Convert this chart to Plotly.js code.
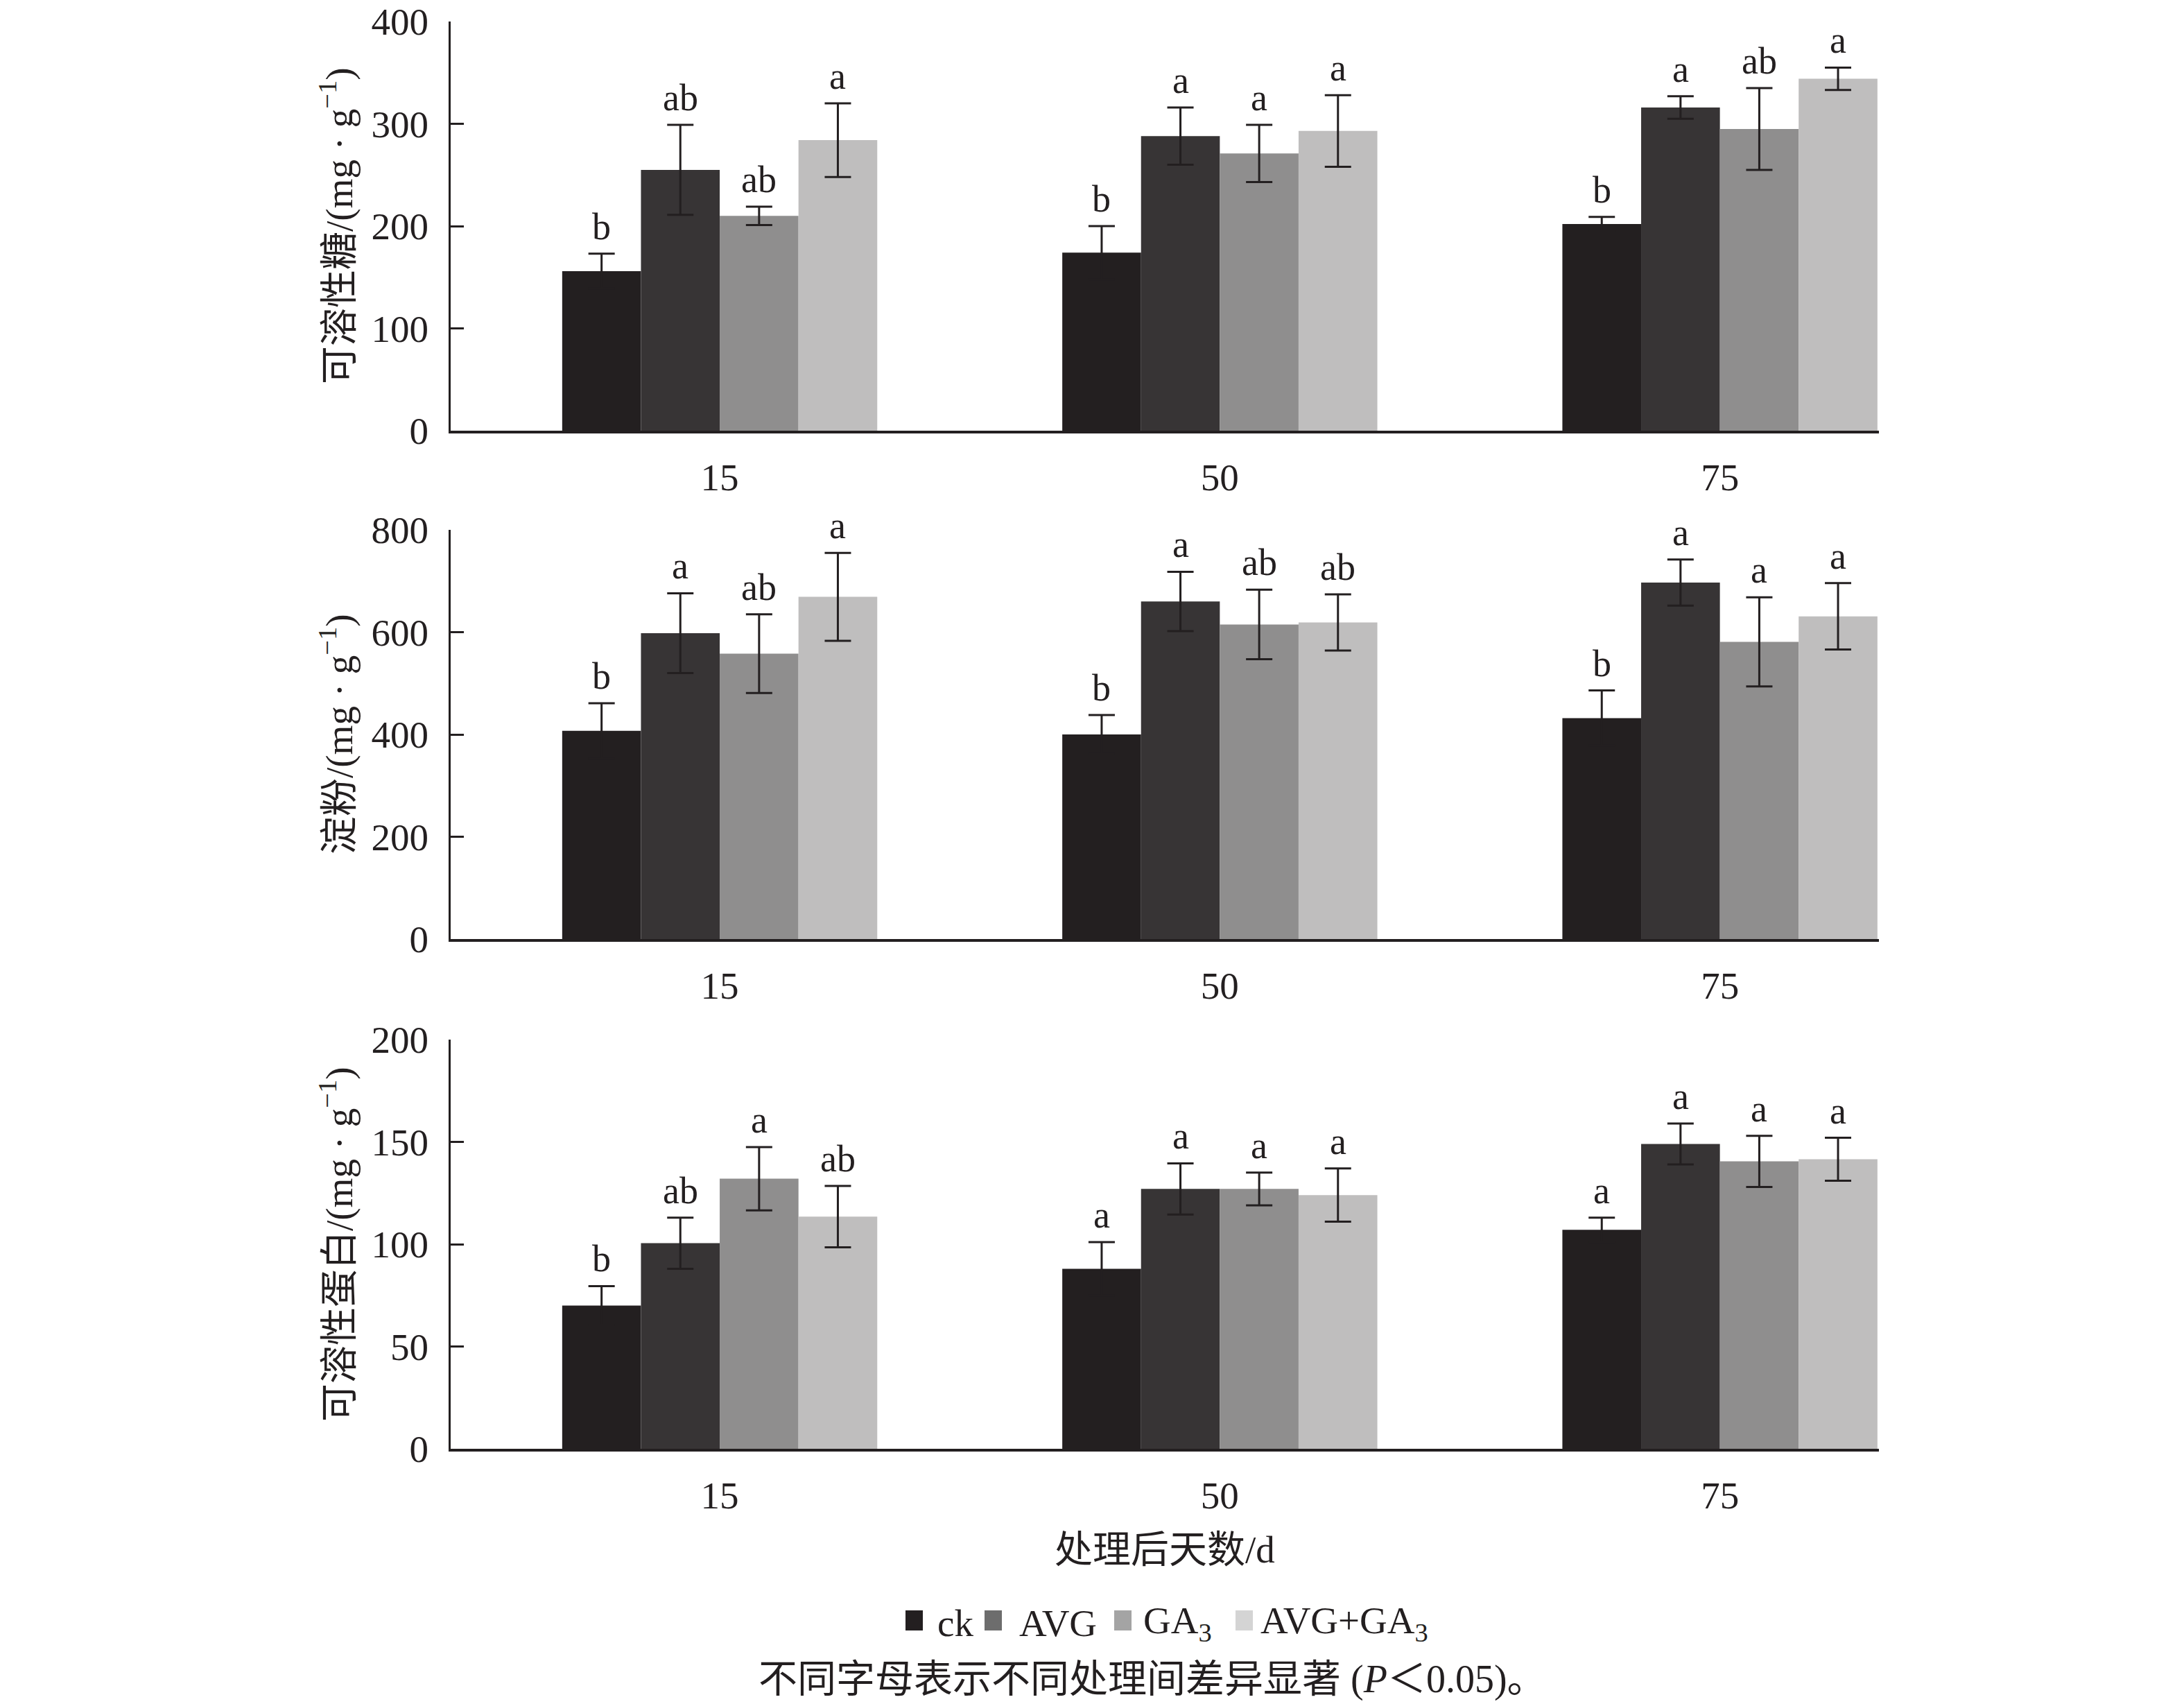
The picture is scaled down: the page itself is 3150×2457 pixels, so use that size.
<!DOCTYPE html>
<html>
<head>
<meta charset="utf-8">
<script src="https://cdn.plot.ly/plotly-3.0.1.min.js"></script>
<style>
  html, body { margin: 0; padding: 0; background: #fff; }
</style>
</head>
<body>
<div id="chart" style="width:3150px;height:2457px"></div>
<script>
const days = ["15", "50", "75"];
const treatments = ["ck", "AVG", "GA<sub>3</sub>", "AVG+GA<sub>3</sub>"];
const barColors = ["#231f20", "#373435", "#8f8e8e", "#bfbebe"];
const legendColors = ["#231f20", "#6d6d6d", "#a4a4a4", "#d4d4d4"];

// rows: ck, AVG, GA3, AVG+GA3 ; columns: 15, 50, 75 d
const sugarMean = [[156, 174, 202], [255, 288, 316], [210, 271, 295], [284, 293, 344]];
const sugarErr = [[17, 26, 7], [44, 28, 11], [9, 28, 40], [36, 35, 11]];
const sugarSig = [["b", "b", "b"], ["ab", "a", "a"], ["ab", "a", "ab"], ["a", "a", "a"]];

const starchMean = [[407, 400, 432], [598, 660, 697], [558, 615, 581], [669, 619, 631]];
const starchErr = [[54, 38, 54], [78, 58, 45], [77, 68, 87], [86, 55, 65]];
const starchSig = [["b", "b", "b"], ["a", "a", "a"], ["ab", "ab", "a"], ["a", "ab", "a"]];

const proteinMean = [[70, 88, 107], [100.5, 127, 149], [132, 127, 140.5], [113.5, 124, 141.5]];
const proteinErr = [[9.5, 13, 6], [12.5, 12.5, 10], [15.5, 8, 12.5], [15, 13, 10.5]];
const proteinSig = [["b", "a", "a"], ["ab", "a", "a"], ["a", "a", "a"], ["ab", "a", "a"]];

const W = 3150, H = 2457;
const px = (x) => x / W;
const py = (y) => 1 - y / H;

const FONT = "'Liberation Serif', 'Noto Sans CJK SC', serif";
const INK = "#231f20";
const BARGAP = 0.37;
const barW = (1 - BARGAP) / treatments.length;

const panels = [
  { mean: sugarMean, err: sugarErr, sig: sugarSig, title: "可溶性糖/(mg · g<sup>−1</sup>)",
    range: [0, 400], dtick: 100, top: 31, bottom: 621 },
  { mean: starchMean, err: starchErr, sig: starchSig, title: "淀粉/(mg · g<sup>−1</sup>)",
    range: [0, 800], dtick: 200, top: 764, bottom: 1354 },
  { mean: proteinMean, err: proteinErr, sig: proteinSig, title: "可溶性蛋白/(mg · g<sup>−1</sup>)",
    range: [0, 200], dtick: 50, top: 1499, bottom: 2089 },
];

const traces = [];
const annotations = [];
const shapes = [];
const layout = {
  width: W,
  height: H,
  margin: { l: 0, r: 0, t: 0, b: 0 },
  paper_bgcolor: "#fff",
  plot_bgcolor: "#fff",
  font: { family: FONT, size: 55, color: INK },
  barmode: "group",
  bargap: BARGAP,
  bargroupgap: 0,
  showlegend: false,
};

const xIdx = days.map((_, i) => i);

panels.forEach((p, k) => {
  const sfx = k === 0 ? "" : String(k + 1);
  p.mean.forEach((vals, j) => {
    traces.push({
      type: "bar",
      x: xIdx,
      y: vals,
      name: treatments[j],
      xaxis: "x" + sfx,
      yaxis: "y" + sfx,
      marker: { color: barColors[j], line: { width: 0 } },
      error_y: { type: "data", array: p.err[j], visible: true, color: INK, thickness: 3, width: 19 },
      hoverinfo: "y",
    });
    vals.forEach((v, i) => {
      annotations.push({
        xref: "x" + sfx, yref: "y" + sfx,
        x: i + (j - (treatments.length - 1) / 2) * barW,
        y: v + p.err[j][i],
        text: p.sig[j][i],
        showarrow: false,
        xanchor: "center",
        yanchor: "bottom",
        yshift: 7,
        font: { size: 54 },
      });
    });
  });

  layout["xaxis" + sfx] = {
    domain: [px(650), px(2710)],
    anchor: "y" + sfx,
    range: [-0.538, 2.318],
    tickvals: xIdx,
    ticktext: days,
    ticks: "outside",
    ticklen: 16,
    tickcolor: "rgba(0,0,0,0)",
    tickfont: { size: 55 },
    showline: true,
    linecolor: INK,
    linewidth: 3.5,
    showgrid: false,
    zeroline: false,
  };
  layout["yaxis" + sfx] = {
    domain: [py(p.bottom), py(p.top)],
    anchor: "x" + sfx,
    range: p.range,
    tick0: 0,
    dtick: p.dtick,
    ticks: "inside",
    ticklen: 19,
    tickwidth: 3,
    tickcolor: INK,
    ticklabelstandoff: 18,
    tickfont: { size: 55 },
    showline: true,
    linecolor: INK,
    linewidth: 3,
    showgrid: false,
    zeroline: false,
  };

  annotations.push({
    xref: "paper", yref: "paper",
    x: px(485), y: py((p.top + p.bottom) / 2),
    text: p.title,
    textangle: -90,
    showarrow: false,
    xanchor: "center", yanchor: "middle",
    font: { size: 55 },
  });
});

// x title, legend, footnote
annotations.push({
  xref: "paper", yref: "paper", x: px(1680), y: py(2234),
  text: "处理后天数/d", showarrow: false,
  xanchor: "center", yanchor: "middle", font: { size: 55 },
});

const legendSquareX = [1306, 1420, 1607, 1782];
const legendTextX = [1350, 1468, 1647, 1816];
treatments.forEach((t, j) => {
  shapes.push({
    type: "rect", xref: "paper", yref: "paper",
    x0: px(legendSquareX[j]), x1: px(legendSquareX[j] + 25),
    y0: py(2351), y1: py(2322),
    fillcolor: legendColors[j], line: { width: 0 },
  });
  annotations.push({
    xref: "paper", yref: "paper", x: px(legendTextX[j]), y: py(2340),
    text: t, showarrow: false, xanchor: "left", yanchor: "middle", font: { size: 55 },
  });
});

annotations.push({
  xref: "paper", yref: "paper", x: px(1662), y: py(2421),
  text: "不同字母表示不同处理间差异显著 (<i>P</i>＜0.05)。", showarrow: false,
  xanchor: "center", yanchor: "middle", font: { size: 56 },
});

layout.annotations = annotations;
layout.shapes = shapes;

Plotly.newPlot("chart", traces, layout, { displayModeBar: false, staticPlot: true });
</script>
</body>
</html>
